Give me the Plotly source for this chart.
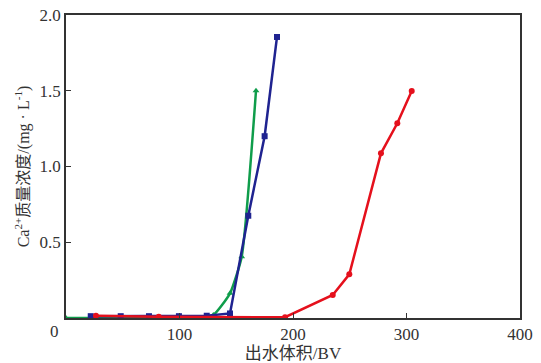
import plotly.graph_objects as go

# Blue squares series
blue_x = [21.8, 48.2, 73.1, 99.5, 124.0, 144.5, 160.6, 175.0, 185.9]
blue_y = [0.012, 0.012, 0.012, 0.012, 0.015, 0.03, 0.675, 1.20, 1.855]

# Green triangles series
green_x = [0, 30, 42, 55, 68, 83, 96, 115, 129.8, 144.5, 154.8, 167.4]
green_y = [0.0, 0.0, 0.0, 0.0, 0.0, 0.0, 0.0, 0.0, 0.02, 0.163, 0.405, 1.50]

# Red circles series
red_x = [26.4, 81.7, 193.0, 235.0, 249.6, 277.5, 291.9, 304.6]
red_y = [0.015, 0.008, 0.005, 0.152, 0.288, 1.087, 1.285, 1.498]

x_ticks = [100, 200, 300, 400]
y_ticks = [0.5, 1.0, 1.5, 2.0]
y_ticktext = ["0.5", "1.0", "1.5", "2.0"]

FONT = "Liberation Serif, Times New Roman, Noto Sans CJK SC, serif"

fig = go.Figure()
fig.add_trace(go.Scatter(x=green_x, y=green_y, mode="lines+markers",
                         line=dict(color="#0f9d4b", width=2.5, shape="spline", smoothing=0.5),
                         marker=dict(symbol="triangle-up", size=6, color="#0f9d4b")))
fig.add_trace(go.Scatter(x=blue_x, y=blue_y, mode="lines+markers",
                         line=dict(color="#1f2390", width=2.5),
                         marker=dict(symbol="square", size=6, color="#1f2390")))
fig.add_trace(go.Scatter(x=red_x, y=red_y, mode="lines+markers",
                         line=dict(color="#e5101c", width=2.5),
                         marker=dict(symbol="circle", size=6, color="#e5101c")))

fig.update_layout(
    width=541, height=363,
    margin=dict(l=66, r=21, t=15, b=45),
    paper_bgcolor="white", plot_bgcolor="white",
    showlegend=False,
    font=dict(family=FONT, size=17, color="#333333"),
    xaxis=dict(range=[0, 400], tickvals=x_ticks, ticks="inside", ticklen=5,
               tickcolor="#333333", showline=True, linecolor="#333333", linewidth=1.5,
               mirror=True, showgrid=False, zeroline=False, automargin=False,
               tickfont=dict(size=17),
               title=dict(text="出水体积/BV", standoff=1, font=dict(size=17))),
    yaxis=dict(range=[0, 2.0], tickvals=y_ticks, ticktext=y_ticktext, ticks="inside", ticklen=5,
               tickcolor="#333333", showline=True, linecolor="#333333", linewidth=1.5,
               mirror=True, showgrid=False, zeroline=False, automargin=False,
               tickfont=dict(size=17),
               title=dict(text="Ca<sup>2+</sup>质量浓度/(mg · L<sup>-1</sup>)", standoff=6,
                          font=dict(size=16))),
)
fig.add_annotation(x=0, y=0, xref="x", yref="y", text="0", showarrow=False,
                   xanchor="right", yanchor="top", xshift=-5, yshift=-2,
                   font=dict(family=FONT, size=17, color="#333333"))

fig.write_html("out.html", config={"displayModeBar": False},
               post_script="document.body.style.margin='0';document.body.style.overflow='hidden';")
